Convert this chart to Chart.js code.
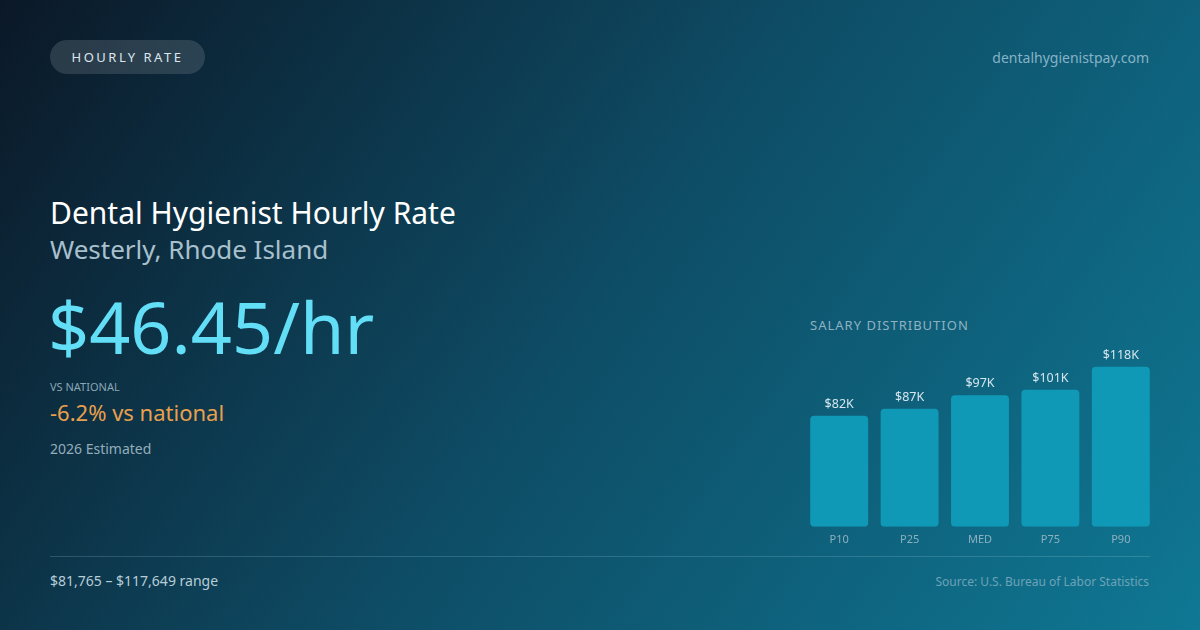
<!DOCTYPE html>
<html>
<head>
<meta charset="utf-8">
<script src="https://cdn.jsdelivr.net/npm/chart.js@4.4.1/dist/chart.umd.min.js"></script>
<style>
  html, body { margin: 0; padding: 0; }
  body {
    width: 1200px; height: 630px; overflow: hidden; position: relative;
    font-family: "Noto Sans", "Open Sans", sans-serif;
    background: linear-gradient(125deg, #0b1827 0%, #0e4d66 50%, #0f7894 100%);
  }
  .abs { position: absolute; white-space: nowrap; }
  #pill {
    left: 50px; top: 40px; width: 155px; height: 34px; border-radius: 17px;
    background: rgba(255,255,255,0.13); color: #dce6ec; font-size: 13px;
    letter-spacing: 2.5px; line-height: 34px; text-align: center;
  }
  #site { right: 51px; top: 48px; font-size: 14px; color: #86b3c6; }
  #title { left: 50px; top: 192px; font-size: 30px; color: #ffffff; }
  #sub { left: 50px; top: 231px; font-size: 26px; color: #a8c0cd; }
  #big { left: 48px; top: 283px; font-size: 72px; color: #62def6; line-height: 1.2; }
  #vsl { left: 50px; top: 379px; font-size: 11px; color: #8aa7b6; }
  #vs { left: 50px; top: 397px; font-size: 22px; color: #e9a04d; }
  #est { left: 50px; top: 439px; font-size: 14px; color: #93adbb; }
  #rule { left: 50px; top: 556px; width: 1100px; height: 1px; background: rgba(150,210,225,0.22); }
  #range { left: 50px; top: 571px; font-size: 14px; color: #b7cdd8; }
  #src { right: 51px; top: 573px; font-size: 12px; color: #6ea2b7; }
  #dist { left: 810px; top: 316px; font-size: 13px; color: #8fb2c2; letter-spacing: 1px; }
  #wrap { position: absolute; left: 800px; top: 330px; width: 360px; height: 222px; }
</style>
</head>
<body>
<div class="abs" id="pill">HOURLY RATE</div>
<div class="abs" id="site">dentalhygienistpay.com</div>
<div class="abs" id="title">Dental Hygienist Hourly Rate</div>
<div class="abs" id="sub">Westerly, Rhode Island</div>
<div class="abs" id="big">$46.45/hr</div>
<div class="abs" id="vsl">VS NATIONAL</div>
<div class="abs" id="vs">-6.2% vs national</div>
<div class="abs" id="est">2026 Estimated</div>
<div class="abs" id="rule"></div>
<div class="abs" id="range">$81,765 – $117,649 range</div>
<div class="abs" id="src">Source: U.S. Bureau of Labor Statistics</div>
<div class="abs" id="dist">SALARY DISTRIBUTION</div>
<div id="wrap"><canvas id="salaryGraph"></canvas></div>
<script>
// salary percentiles, in thousands
var percentiles = ["P10", "P25", "MED", "P75", "P90"];
var salaries = [82, 87, 97, 101, 118];
var salaryLabels = ["$82K", "$87K", "$97K", "$101K", "$118K"];

// draws the $xxK above each bar
var topLabels = {
  id: 'topLabels',
  afterDatasetsDraw: function (chart) {
    var ctx = chart.ctx;
    var meta = chart.getDatasetMeta(0);
    ctx.save();
    ctx.font = '12.5px "Noto Sans", sans-serif';
    ctx.fillStyle = '#d5e6ee';
    ctx.textAlign = 'center';
    ctx.textBaseline = 'alphabetic';
    for (var i = 0; i < meta.data.length; i++) {
      var bar = meta.data[i];
      ctx.fillText(salaryLabels[i], bar.x, bar.y - 8);
    }
    ctx.restore();
  }
};

var ctx = document.getElementById("salaryGraph").getContext('2d');
var myChart = new Chart(ctx, {
  type: 'bar',
  data: {
    labels: percentiles,
    datasets: [{
      data: salaries,
      backgroundColor: "#0f99b6",
      borderRadius: 4,
      borderSkipped: false,
      barPercentage: 0.823,
      categoryPercentage: 1
    }]
  },
  options: {
    responsive: true,
    maintainAspectRatio: false,
    animation: false,
    layout: { padding: { left: 4, right: 4, top: 7, bottom: 0 } },
    plugins: { legend: { display: false }, tooltip: { enabled: false } },
    scales: {
      x: {
        grid: { display: false, drawTicks: false },
        border: { display: false },
        ticks: { color: '#8db0c0', font: { family: 'Noto Sans', size: 11 }, padding: 6 }
      },
      y: { display: false, min: 0, max: 140 }
    }
  },
  plugins: [topLabels]
});
</script>
</body>
</html>
